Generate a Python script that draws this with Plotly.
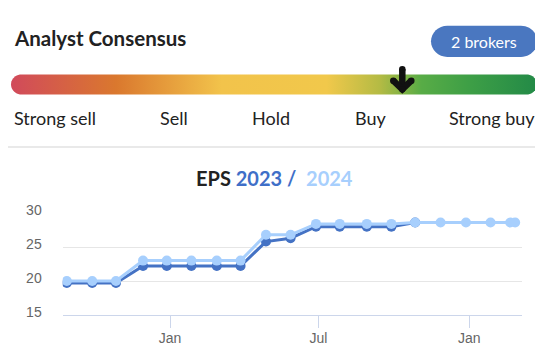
import math
import plotly.graph_objects as go

# ---------------- data ----------------
dates = ["2022-08-28", "2022-09-28", "2022-10-27", "2022-11-29", "2022-12-28",
         "2023-01-27", "2023-02-27", "2023-03-28", "2023-04-28", "2023-05-28",
         "2023-06-28", "2023-07-27", "2023-08-29", "2023-09-28", "2023-10-27",
         "2023-11-27", "2023-12-28", "2024-01-27", "2024-02-20", "2024-02-26"]
eps_2023 = [19.7, 19.7, 19.7, 22.2, 22.2, 22.2, 22.2, 22.2, 25.8, 26.3,
            28.0, 28.0, 28.0, 28.0, 28.6]
eps_2024 = [20.0, 20.0, 20.0, 23.0, 23.0, 23.0, 23.0, 23.0, 26.8, 26.8,
            28.4, 28.4, 28.4, 28.4, 28.6, 28.6, 28.6, 28.6, 28.6, 28.6]
x_tick_vals = ["2023-01-01", "2023-07-01", "2024-01-01"]
x_tick_text = ["Jan", "Jul", "Jan"]
y_tick_vals = [15, 20, 25, 30]
consensus_labels = ["Strong sell", "Sell", "Hold", "Buy", "Strong buy"]
broker_count = 2

# ---------------- styles ----------------
W, H = 543, 362
OX, OY = 8, 8          # page offset of the plot div (body margin)
DARK = "#4472C4"
LIGHT = "#A7CFFD"
TXT = "#222222"
UI_FONT = "Lato"
AX_FONT = "Liberation Sans, Arial, sans-serif"


def sx(x):
    return x - OX


def sy(y):
    return y - OY


def px_x(x):
    return sx(x) / W


def px_y(y):
    return 1 - sy(y) / H


fig = go.Figure()

fig.add_trace(go.Scatter(x=dates[:len(eps_2023)], y=eps_2023, mode="lines+markers",
                         line=dict(color=DARK, width=3), marker=dict(color=DARK, size=10),
                         name="2023", xaxis="x", yaxis="y", hoverinfo="skip"))
fig.add_trace(go.Scatter(x=dates, y=eps_2024, mode="lines+markers",
                         line=dict(color=LIGHT, width=3), marker=dict(color=LIGHT, size=10),
                         name="2024", xaxis="x", yaxis="y", hoverinfo="skip"))

# gradient consensus bar (decorative, in screen-pixel layer)
bx0, bx1, by0, by1 = sx(11), sx(537), sy(66), sy(87)
r = (by1 - by0) / 2
cy = (by0 + by1) / 2
px, py = [], []
for i in range(0, 21):
    a = -math.pi / 2 + math.pi * i / 20
    px.append(bx1 - r + r * math.cos(a)); py.append(cy + r * math.sin(a))
for i in range(0, 21):
    a = math.pi / 2 + math.pi * i / 20
    px.append(bx0 + r + r * math.cos(a)); py.append(cy + r * math.sin(a))
fig.add_trace(go.Scatter(
    x=px, y=py, xaxis="x2", yaxis="y2", mode="none", fill="toself",
    fillgradient=dict(type="horizontal", start=bx0, stop=bx1, colorscale=[
        [0.0, "#D14A5B"], [0.2, "#DA782E"], [0.4, "#F2C34B"], [0.6, "#F1C84B"],
        [0.7, "#B5BB44"], [0.78, "#58AC46"], [0.87, "#3E9F46"], [1.0, "#238A47"]]),
    hoverinfo="skip", showlegend=False))

# arrow marker
ax_c = sx(402.3)
fig.add_trace(go.Scatter(x=[ax_c, ax_c], y=[sy(60.5), sy(80)], xaxis="x2", yaxis="y2",
                         mode="lines+markers", line=dict(color="#111111", width=6.5),
                         marker=dict(color="#111111", size=6.5),
                         hoverinfo="skip", showlegend=False))
fig.add_trace(go.Scatter(x=[ax_c - 9, ax_c, ax_c + 9], y=[sy(72.5), sy(81.5), sy(72.5)],
                         xaxis="x2", yaxis="y2",
                         mode="lines+markers", line=dict(color="#111111", width=6.5),
                         marker=dict(color="#111111", size=6.5),
                         hoverinfo="skip", showlegend=False))

# badge pill
qx0, qx1, qy0, qy1 = sx(431), sx(537.3), sy(15), sy(47.7)
qr = (qy1 - qy0) / 2
k = 0.5523 * qr
badge_path = (f"M {qx0+qr},{qy0} L {qx1-qr},{qy0} "
              f"C {qx1-qr+k},{qy0} {qx1},{qy0+qr-k} {qx1},{qy0+qr} "
              f"C {qx1},{qy0+qr+k} {qx1-qr+k},{qy1} {qx1-qr},{qy1} "
              f"L {qx0+qr},{qy1} "
              f"C {qx0+qr-k},{qy1} {qx0},{qy1-qr+k} {qx0},{qy1-qr} "
              f"C {qx0},{qy0+qr-k} {qx0+qr-k},{qy0} {qx0+qr},{qy0} Z")
shapes = [
    dict(type="path", path=badge_path, xref="x2", yref="y2",
         fillcolor="#4A77C0", line=dict(width=0), layer="below"),
    dict(type="line", x0=0, x1=W, y0=sy(142), y1=sy(142), xref="x2", yref="y2",
         line=dict(color="#E2E2E2", width=1.5)),
]

annotations = [
    dict(text="<b>Analyst Consensus</b>", x=sx(12), y=sy(28), xref="x2", yref="y2",
         xanchor="left", yanchor="middle", showarrow=False,
         font=dict(family=UI_FONT, size=20.5, color=TXT)),
    dict(text=f"{broker_count} brokers", x=sx(484), y=sy(32), xref="x2", yref="y2",
         xanchor="center", yanchor="middle", showarrow=False,
         font=dict(family=UI_FONT, size=16, color="white")),
    dict(text="<b><span style='color:#222222'>EPS</span> "
              f"<span style='color:#3F6FC8'>2023 /</span>  "
              f"<span style='color:{LIGHT}'>2024</span></b>",
         x=sx(274), y=sy(174), xref="x2", yref="y2", xanchor="center", yanchor="middle",
         showarrow=False, font=dict(family=UI_FONT, size=20)),
]
label_pos = [(12, "left"), (174, "center"), (271, "center"), (370.5, "center"), (537, "right")]
for lab, (lx, anc) in zip(consensus_labels, label_pos):
    annotations.append(dict(text=lab, x=sx(lx), y=sy(112), xref="x2", yref="y2",
                            xanchor=anc, yanchor="middle", showarrow=False,
                            font=dict(family=UI_FONT, size=18, color=TXT)))

fig.update_layout(
    width=W, height=H, margin=dict(l=0, r=0, t=0, b=0),
    paper_bgcolor="white", plot_bgcolor="rgba(0,0,0,0)",
    showlegend=False, hovermode=False,
    shapes=shapes, annotations=annotations,
    xaxis=dict(domain=[px_x(62.7), px_x(521.7)], type="date",
               range=["2022-08-23", "2024-03-05"],
               tickvals=x_tick_vals, ticktext=x_tick_text,
               showgrid=False, showline=True, linecolor="#CCD6EB", linewidth=1,
               ticks="outside", ticklen=12, tickcolor="#CCD6EB", tickwidth=1,
               ticklabelstandoff=-2,
               tickfont=dict(family=AX_FONT, size=14, color="#666666"),
               zeroline=False, anchor="y", fixedrange=True),
    yaxis=dict(domain=[px_y(317.7), px_y(211)], range=[15, 30],
               tickvals=y_tick_vals, showgrid=True, gridcolor="#E6E6E6", gridwidth=1,
               showline=False, zeroline=False, ticks="", ticklabelstandoff=20,
               ticklabelshift=-3,
               tickfont=dict(family=AX_FONT, size=14, color="#666666"),
               anchor="x", fixedrange=True),
    xaxis2=dict(domain=[0, 1], range=[0, W], visible=False, anchor="y2", fixedrange=True),
    yaxis2=dict(domain=[0, 1], range=[H, 0], visible=False, anchor="x2", fixedrange=True),
)

fig.write_html("out.html")
